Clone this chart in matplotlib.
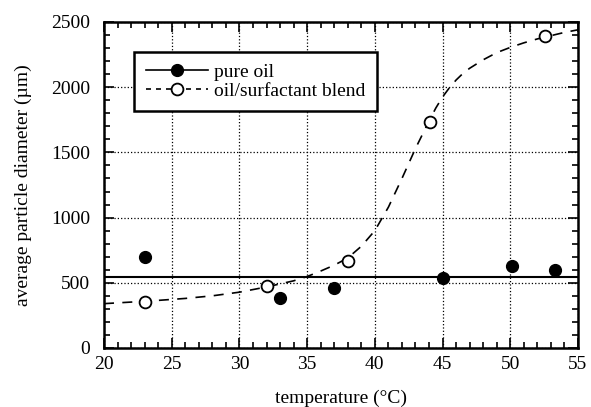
import matplotlib
matplotlib.use('Agg')
import matplotlib.pyplot as plt
from matplotlib.lines import Line2D
from matplotlib.ticker import MultipleLocator

plt.rcParams['font.family'] = ['Liberation Serif', 'DejaVu Serif']

# pure oil (filled circles) and its mean line
oil_t = [23, 33, 37, 45, 50.1, 53.3]
oil_d = [700, 385, 460, 540, 630, 600]
oil_line_t = [20, 55]
oil_line_d = [548, 548]

# oil/surfactant blend (open circles) and fitted curve
blend_t = [23, 32, 38, 44.1, 52.6]
blend_d = [355, 475, 670, 1735, 2395]
fit_t = [20, 22, 24, 26, 28, 30, 32, 34, 35, 36, 37, 38, 39, 40, 41, 42,
         43, 44, 44.5, 45, 45.5, 46, 46.5, 47, 48, 49, 50, 51, 52, 53, 54, 55]
fit_d = [340, 352, 365, 380, 400, 428, 468, 515, 548, 590, 635, 690, 780,
         900, 1080, 1300, 1530, 1740, 1840, 1925, 1995, 2055, 2105, 2145,
         2210, 2265, 2305, 2340, 2370, 2395, 2420, 2440]

fig = plt.figure(figsize=(5.91, 4.07), dpi=100)
ax = fig.add_axes([0.176, 0.145, 0.802, 0.801])

ax.plot(oil_line_t, oil_line_d, color='k', lw=1.5)
ax.plot(fit_t, fit_d, color='k', lw=1.2, ls=(0, (6, 5)))
ax.plot(oil_t, oil_d, 'o', color='k', ms=8.5, zorder=5)
ax.plot(blend_t, blend_d, 'o', mfc='white', mec='k', mew=1.3, ms=8.5, zorder=5)

ax.set_xlim(20, 55)
ax.set_ylim(0, 2500)
ax.xaxis.set_major_locator(MultipleLocator(5))
ax.xaxis.set_minor_locator(MultipleLocator(1))
ax.yaxis.set_major_locator(MultipleLocator(500))
ax.yaxis.set_minor_locator(MultipleLocator(100))
ax.tick_params(which='both', direction='in', top=True, right=True,
               labelsize=14, width=1.2, color='k')
ax.tick_params(which='major', length=7)
ax.tick_params(axis='y', which='major', pad=10)
ax.tick_params(axis='x', which='major', pad=6)
ax.tick_params(which='minor', length=4)
ax.grid(True, which='major', color='k', ls=':', lw=0.9)
for s in ax.spines.values():
    s.set_linewidth(1.8)

ax.set_xlabel('temperature (°C)', fontsize=14, labelpad=12)
ax.set_ylabel('average particle diameter (µm)', fontsize=14, labelpad=14)

handles = [
    Line2D([], [], color='k', lw=1.2, marker='o', ms=8.5),
    Line2D([], [], color='k', lw=1.2, ls=(0, (3, 3)), marker='o',
           mfc='white', mec='k', mew=1.3, ms=8.5),
]
leg = ax.legend(handles, ['pure oil', 'oil/surfactant blend'],
                loc='upper left', bbox_to_anchor=(0.063, 0.908),
                borderaxespad=0, fontsize=14, fancybox=False,
                framealpha=1, edgecolor='k', labelspacing=0.05,
                handlelength=3.2, handletextpad=0.3, borderpad=0.6)
leg.get_frame().set_linewidth(1.8)

plt.savefig('out.png', dpi=100)
